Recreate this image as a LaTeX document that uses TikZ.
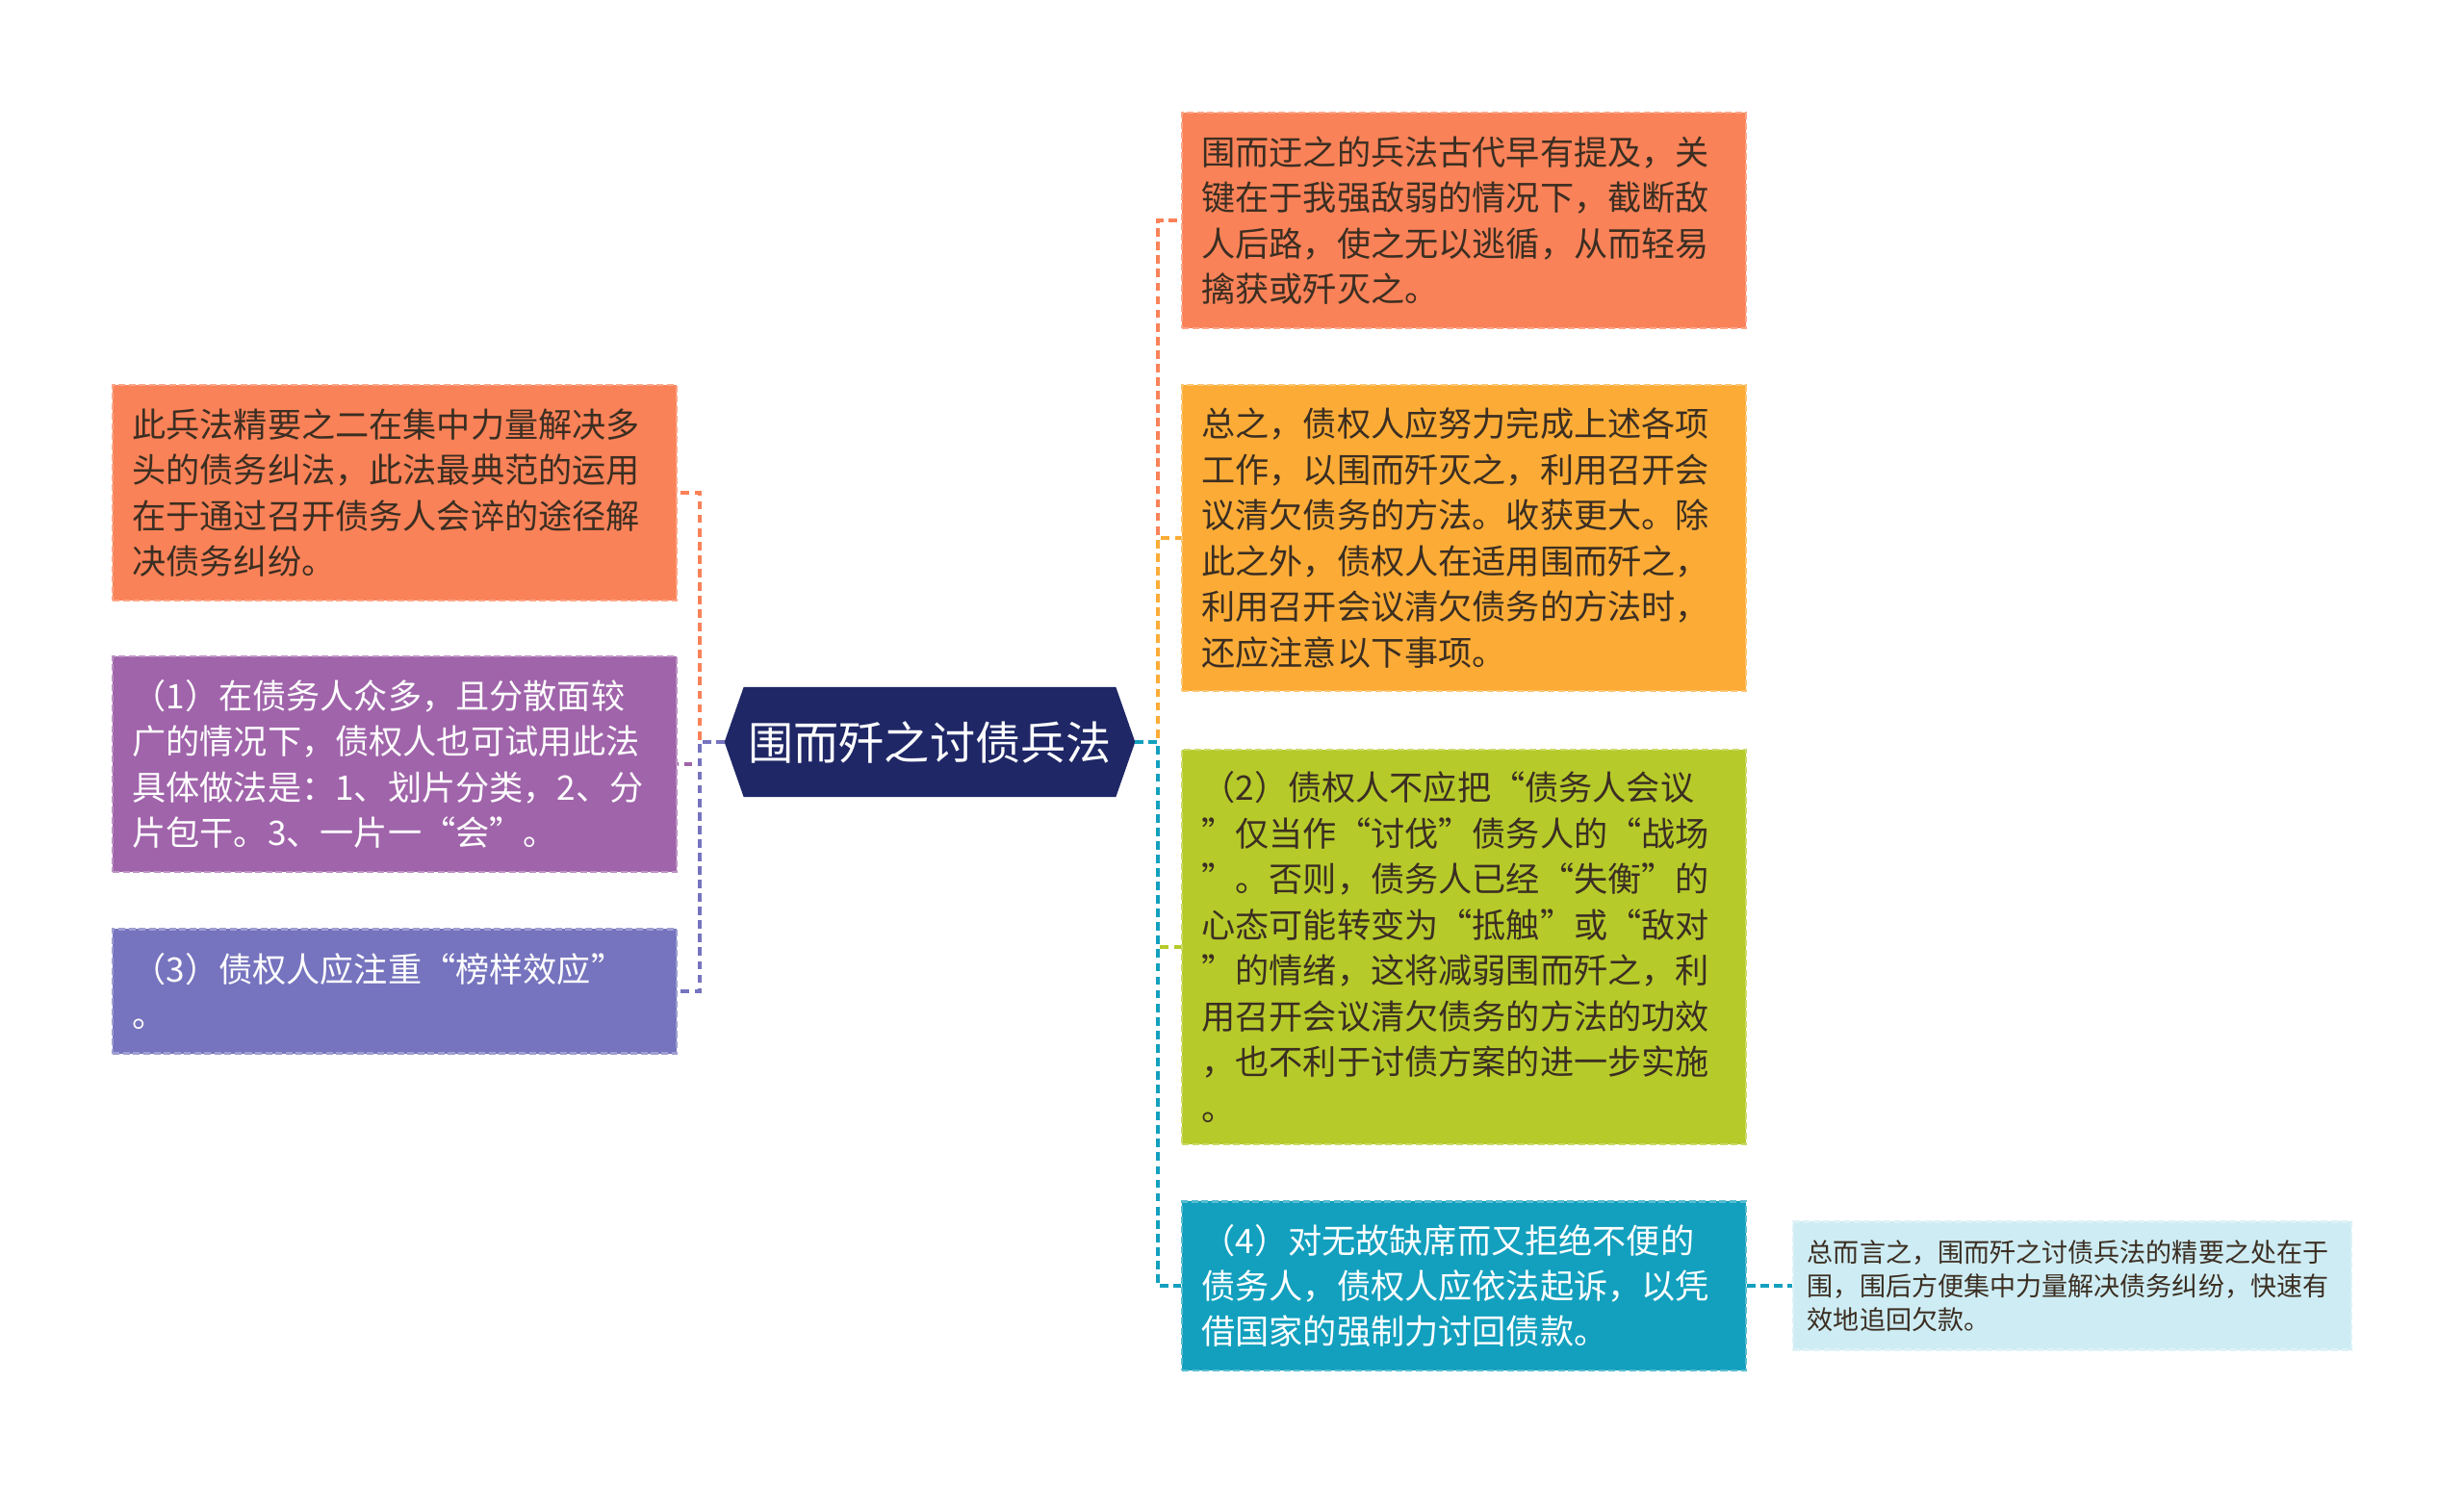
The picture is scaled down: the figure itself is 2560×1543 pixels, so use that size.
\documentclass[tikz,border=0pt]{standalone}
\usepackage{fontspec}
\newfontfamily\cjk{Noto Sans CJK SC}
\usetikzlibrary{backgrounds}
\definecolor{orangeA}{HTML}{FA8258}
\definecolor{yellowA}{HTML}{FCAC36}
\definecolor{greenA}{HTML}{B6CA2A}
\definecolor{tealA}{HTML}{12A0BE}
\definecolor{purpleA}{HTML}{A064AA}
\definecolor{indigoA}{HTML}{7674BE}
\definecolor{paleA}{HTML}{CEECF3}
\definecolor{navyA}{HTML}{1F2766}
\definecolor{inkA}{HTML}{3B2E22}

\begin{document}
\begin{tikzpicture}[x=0.01cm,y=-0.01cm,
  topic/.style={fill=#1,draw=#1!70!white,dash pattern=on 2pt off 1pt,line width=0.6pt,
    inner xsep=0.2cm,inner ysep=0pt,text width=5.45cm,align=left,text=inkA,
    font=\cjk\fontsize{10}{13.5}\selectfont},
  root/.style={minimum width=4.25cm,minimum height=1.13cm,inner sep=0pt,text=white,
    font=\cjk\fontsize{13.4}{16}\selectfont},
  lnk/.style={draw=#1,dash pattern=on 2.5pt off 1.5pt,line width=0.9pt}]
\path[use as bounding box] (0,0) rectangle (2560,1543);

% centre topic
\node[root] (root) at (966,771) {围而歼之讨债兵法};
\begin{scope}[on background layer]
\fill[white] (0,0) rectangle (2560,1543);
\fill[navyA] (root.west) -- ([xshift=0.2cm]root.north west) -- ([xshift=-0.2cm]root.north east)
  -- (root.east) -- ([xshift=-0.2cm]root.south east) -- ([xshift=0.2cm]root.south west) -- cycle;
\end{scope}

% left branches
\node[topic=orangeA,minimum height=2.24cm] (l1) at (410,512)
  {此兵法精要之二在集中力量解决多\\头的债务纠法，此法最典范的运用\\在于通过召开债务人会谇的途径解\\决债务纠纷。};
\node[topic=purpleA,minimum height=2.24cm,text=white] (l2) at (410,794)
  {（1）在债务人众多，且分散面较\\广的情况下，债权人也可试用此法\\具体做法是：1、划片分类，2、分\\片包干。3、一片一“会”。};
\node[topic=indigoA,minimum height=1.29cm,text=white] (l3) at (410,1030)
  {（3）债权人应注重“榜样效应”\\。};

% right branches
\node[topic=orangeA,minimum height=2.23cm] (r1) at (1521,229)
  {围而迂之的兵法古代早有提及，关\\键在于我强敌弱的情况下，截断敌\\人后路，使之无以逃循，从而轻易\\擒获或歼灭之。};
\node[topic=yellowA,minimum height=3.18cm] (r2) at (1521,559)
  {总之，债权人应努力完成上述各项\\工作，以围而歼灭之，利用召开会\\议清欠债务的方法。收获更大。除\\此之外，债权人在适用围而歼之，\\利用召开会议清欠债务的方法时，\\还应注意以下事项。};
\node[topic=greenA,minimum height=4.1cm] (r3) at (1521,984)
  {（2）债权人不应把“债务人会议\\”仅当作“讨伐”债务人的“战场\\”。否则，债务人已经“失衡”的\\心态可能转变为“抵触”或“敌对\\”的情绪，这将减弱围而歼之，利\\用召开会议清欠债务的方法的功效\\，也不利于讨债方案的进一步实施\\。};
\node[topic=tealA,minimum height=1.75cm,text=white] (r4) at (1521,1336)
  {（4）对无故缺席而又拒绝不便的\\债务人，债权人应依法起诉，以凭\\借国家的强制力讨回债款。};
\node[topic=paleA,minimum height=1.33cm,inner xsep=0.15cm,text width=5.5cm,
  font=\cjk\fontsize{7.7}{10}\selectfont] (r4a) at (2153,1336)
  {总而言之，围而歼之讨债兵法的精要之处在于\\围，围后方便集中力量解决债务纠纷，快速有\\效地追回欠款。};

% connectors
\coordinate (lt) at (727,771);
\coordinate (rt) at (1203,771);
\draw[lnk=orangeA] (root.west) -- (lt) |- (l1.east);
\draw[lnk=purpleA] (root.west) -- (lt) |- (l2.east);
\draw[lnk=indigoA] (root.west) -- (lt) |- (l3.east);
\draw[lnk=orangeA] (root.east) -- (rt) |- (r1.west);
\draw[lnk=yellowA] (root.east) -- (rt) |- (r2.west);
\draw[lnk=greenA] (root.east) -- (rt) |- (r3.west);
\draw[lnk=tealA] (root.east) -- (rt) |- (r4.west);
\draw[lnk=tealA] (r4.east) -- (r4a.west);
\end{tikzpicture}
\end{document}
